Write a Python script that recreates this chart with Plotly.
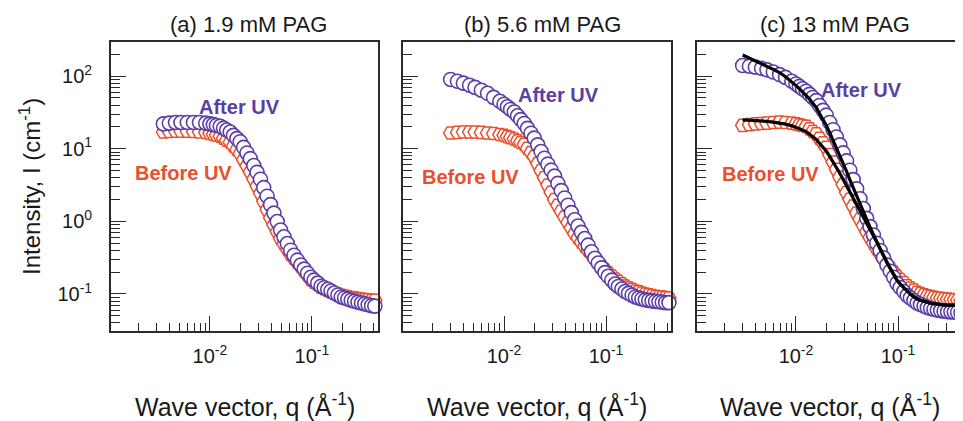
import plotly.graph_objects as go

# ---------------- data ----------------
q = [0.0030, 0.0035, 0.0040, 0.0046, 0.0052, 0.0060, 0.0069, 0.0079, 0.0091,
     0.0100, 0.0108, 0.0116, 0.0126, 0.0136, 0.0146, 0.0158, 0.0170, 0.0184, 0.0198,
     0.0214, 0.0231, 0.0249, 0.0269, 0.0290, 0.0313, 0.0337, 0.0364, 0.0393, 0.0424,
     0.0457, 0.0493, 0.0532, 0.0574, 0.0619, 0.0668, 0.0721, 0.0778, 0.0840, 0.0906,
     0.0977, 0.105, 0.114, 0.123, 0.132, 0.143, 0.154, 0.166, 0.180, 0.194,
     0.209, 0.225, 0.243, 0.262, 0.283, 0.306, 0.330, 0.356, 0.384, 0.414, 0.445]

# (a) 1.9 mM PAG
a_before = [None, 17, 17.3, 17.5, 17.5, 17.5, 17.3, 17, 16.8,
            16.3, 15.8, 15.4, 14.9, 14.0, 13.1, 12.3, 10.9, 9.7, 8.6,
            7.08, 5.83, 4.8, 3.84, 3.07, 2.45, 1.89, 1.45, 1.12, 0.9,
            0.72, 0.58, 0.49, 0.414, 0.35, 0.309, 0.272, 0.24, 0.208, 0.181,
            0.157, 0.145, 0.134, 0.124, 0.118, 0.112, 0.107, 0.103, 0.0995, 0.096,
            0.0936, 0.0913, 0.089, 0.0876, 0.0863, 0.085, 0.084, 0.083, 0.082, 0.082, 0.081]
a_after = [None, 22, 22.5, 23, 23, 23, 23, 23, 22.5,
           22, 21.5, 20.9, 20.4, 19.2, 18.1, 17, 15.3, 13.8, 12.5,
           10.45, 8.74, 7.3, 5.87, 4.73, 3.8, 2.91, 2.22, 1.7, 1.3,
           0.995, 0.76, 0.613, 0.495, 0.4, 0.342, 0.292, 0.25, 0.22, 0.193,
           0.17, 0.155, 0.141, 0.128, 0.122, 0.116, 0.11, 0.103, 0.097, 0.091,
           0.088, 0.085, 0.082, 0.0796, 0.0772, 0.075, 0.073, 0.071, 0.069, 0.068, 0.066]

# (b) 5.6 mM PAG
b_before = [16.5, 16.8, 17, 17, 17, 16.8, 16.5, 16.2, 15.7,
            15.3, 14.7, 14.2, 13.6, 12.9, 12.2, 11.5, 10.1, 8.86, 7.8,
            6.24, 4.99, 4.0, 3.17, 2.52, 2.0, 1.66, 1.38, 1.15, 0.965,
            0.81, 0.68, 0.593, 0.517, 0.45, 0.397, 0.351, 0.31, 0.274, 0.243,
            0.215, 0.195, 0.177, 0.16, 0.149, 0.138, 0.128, 0.122, 0.116, 0.11,
            0.1067, 0.1032, 0.1, 0.0976, 0.0953, 0.093, 0.0916, 0.0903, 0.089, 0.088, 0.088]
b_after = [90, 85, 80, 75, 70, 64, 58, 51, 45,
           41, 37.8, 34.8, 32, 28.4, 25.2, 22.3, 19.1, 16.35, 14,
           11.3, 9.16, 7.4, 6.13, 5.07, 4.2, 3.33, 2.65, 2.1, 1.67,
           1.32, 1.05, 0.861, 0.706, 0.58, 0.47, 0.381, 0.31, 0.267, 0.229,
           0.197, 0.175, 0.155, 0.137, 0.127, 0.117, 0.108, 0.102, 0.096, 0.091,
           0.088, 0.0855, 0.083, 0.0816, 0.0803, 0.079, 0.078, 0.077, 0.076, 0.076, 0.076]

# (c) 13 mM PAG
c_before = [21, 21.5, 22, 22.3, 22.5, 23, 23.3, 23, 22.5,
            22, 21.4, 20.9, 20.3, 18.8, 17.3, 16, 13.9, 12.1, 10.5,
            8.3, 6.57, 5.2, 4.08, 3.2, 2.5, 2.01, 1.62, 1.3, 1.07,
            0.876, 0.72, 0.601, 0.502, 0.42, 0.358, 0.305, 0.26, 0.228, 0.2,
            0.175, 0.158, 0.144, 0.13, 0.121, 0.113, 0.105, 0.101, 0.0975, 0.094,
            0.092, 0.09, 0.088, 0.087, 0.086, 0.085, 0.084, 0.083, 0.082, 0.081, 0.08]
c_after = [140, 137, 133, 128, 122, 114, 105, 96, 85,
           78, 72.2, 66.9, 62, 56.1, 50.8, 46, 39.4, 33.8, 29,
           23.0, 18.3, 14.5, 11.3, 8.76, 6.8, 5.06, 3.76, 2.8, 2.05,
           1.5, 1.1, 0.846, 0.65, 0.5, 0.397, 0.315, 0.25, 0.206, 0.17,
           0.14, 0.123, 0.108, 0.095, 0.0878, 0.0812, 0.075, 0.0715, 0.0682, 0.065,
           0.0633, 0.0616, 0.06, 0.059, 0.058, 0.057, 0.0567, 0.0563, 0.056, 0.055, 0.055]
c_fit_before = [25, 24.8, 24.5, 24.2, 23.8, 23.3, 22.6, 21.8, 20.7,
                19.7, 18.8, 18.0, 17.2, 15.8, 14.6, 13.4, 11.9, 10.5, 9.3,
                7.85, 6.63, 5.6, 4.6, 3.77, 3.1, 2.56, 2.12, 1.75, 1.44,
                1.19, 0.98, 0.794, 0.643, 0.52, 0.418, 0.336, 0.27, 0.224, 0.186,
                0.155, 0.137, 0.122, 0.108, 0.0997, 0.092, 0.085, 0.0819, 0.0789, 0.076,
                0.0746, 0.0733, 0.072, 0.0713, 0.0707, 0.07, 0.07, 0.07, 0.07, 0.07, 0.07]
c_fit_after = [195, 175, 160, 146, 136, 124, 112, 98, 84,
               74, 67.1, 60.8, 55, 48.2, 42.2, 37, 30.6, 25.4, 21,
               16.7, 13.2, 10.5, 8.15, 6.32, 4.9, 3.75, 2.88, 2.2, 1.72,
               1.34, 1.05, 0.831, 0.657, 0.52, 0.418, 0.336, 0.27, 0.224, 0.186,
               0.155, 0.137, 0.122, 0.108, 0.0997, 0.092, 0.085, 0.0819, 0.0789, 0.076,
               0.0746, 0.0733, 0.072, 0.0713, 0.0707, 0.07, 0.07, 0.07, 0.07, 0.07, 0.07]

panel_titles = ["(a) 1.9 mM PAG", "(b) 5.6 mM PAG", "(c) 13 mM PAG"]
x_tickvals = [0.01, 0.1]
x_ticktext = ["10<sup>-2</sup>", "10<sup>-1</sup>"]
y_tickvals = [0.1, 1, 10, 100]
y_ticktext = ["10<sup>-1</sup>", "10<sup>0</sup>", "10<sup>1</sup>", "10<sup>2</sup>"]

# ---------------- styling ----------------
OFF = 8                      # page body margin of the html page
W, H = 963 - OFF, 421 - OFF
PURPLE = "#5b3ea6"
RED = "#e8502e"
FRAME = "#2b2b2b"
FONT = "Liberation Sans, Arial, sans-serif"

boxes = [(111, 378), (403, 671), (697, 963)]   # screen pixels
TOP, BOT = 42, 331
xranges = [[-2.97, -0.352], [-2.99, -0.363], [-2.97, -0.363]]
yrange = [-1.51, 2.47]

def px(x):
    return (x - OFF) / W

def py(y):
    return 1 - (y - OFF) / H

minor_x = [m * 10.0 ** e for e in (-3, -2, -1) for m in range(2, 10)]
minor_y = [m * 10.0 ** e for e in (-2, -1, 0, 1, 2) for m in range(2, 10)]

fig = go.Figure()

data = [(a_before, a_after), (b_before, b_after), (c_before, c_after)]
for i, (bef, aft) in enumerate(data):
    xa = "x" if i == 0 else f"x{i+1}"
    ya = "y" if i == 0 else f"y{i+1}"
    fig.add_trace(go.Scatter(
        x=q, y=bef, mode="markers", xaxis=xa, yaxis=ya, cliponaxis=False,
        marker=dict(symbol="hexagon2", size=14, color="white",
                    line=dict(color=RED, width=1.5)),
        showlegend=False))
    fig.add_trace(go.Scatter(
        x=q, y=aft, mode="markers", xaxis=xa, yaxis=ya, cliponaxis=False,
        marker=dict(symbol="circle", size=14, color="white",
                    line=dict(color=PURPLE, width=1.6)),
        showlegend=False))

for fit in (c_fit_before, c_fit_after):
    fig.add_trace(go.Scatter(
        x=q, y=fit, mode="lines", xaxis="x3", yaxis="y3",
        line=dict(color="black", width=3.2), showlegend=False))

layout = dict(
    width=W, height=H, margin=dict(l=0, r=0, t=0, b=0),
    paper_bgcolor="white", plot_bgcolor="white",
    font=dict(family=FONT, color="#1a1a1a"),
)

for i, (l, r) in enumerate(boxes):
    xk = "xaxis" if i == 0 else f"xaxis{i+1}"
    yk = "yaxis" if i == 0 else f"yaxis{i+1}"
    anchor_x = "y" if i == 0 else f"y{i+1}"
    anchor_y = "x" if i == 0 else f"x{i+1}"
    layout[xk] = dict(
        type="log", domain=[px(l), min(px(r), 1.0)], range=xranges[i], anchor=anchor_x,
        showgrid=False, zeroline=False, showline=True, mirror=True,
        linecolor=FRAME, linewidth=1.8,
        ticks="inside", ticklen=15, tickwidth=1.3, tickcolor=FRAME,
        tickvals=x_tickvals, ticktext=x_ticktext,
        tickfont=dict(size=20, color="#1a1a1a"), ticklabelstandoff=6,
        minor=dict(tickvals=minor_x, ticks="inside", ticklen=8,
                   tickwidth=1.3, tickcolor=FRAME, showgrid=False),
    )
    layout[yk] = dict(
        type="log", domain=[py(BOT), py(TOP)], range=yrange, anchor=anchor_y,
        showgrid=False, zeroline=False, showline=True,
        mirror=(i != 2),
        linecolor=FRAME, linewidth=1.8,
        ticks="inside", ticklen=15, tickwidth=1.3, tickcolor=FRAME,
        tickvals=y_tickvals, ticktext=y_ticktext,
        showticklabels=(i == 0),
        tickfont=dict(size=20, color="#1a1a1a"), ticklabelstandoff=13,
        minor=dict(tickvals=minor_y, ticks="inside", ticklen=9,
                   tickwidth=1.3, tickcolor=FRAME, showgrid=False),
    )

fig.update_layout(**layout)

ann = []
title_x = [248, 542, 835]
for i, t in enumerate(panel_titles):
    ann.append(dict(x=px(title_x[i]), y=py(25), xref="paper", yref="paper",
                    text=t, showarrow=False, xanchor="center", yanchor="middle",
                    font=dict(size=22, color="#1a1a1a")))
    cx = (boxes[i][0] + boxes[i][1]) / 2
    ann.append(dict(x=px(cx), y=py(405), xref="paper", yref="paper",
                    text="Wave vector, q (Å<sup>-1</sup>)", showarrow=False,
                    xanchor="center", yanchor="middle",
                    font=dict(size=25, color="#1a1a1a")))

ann.append(dict(x=px(30), y=py(187), xref="paper", yref="paper",
                text="Intensity, I (cm<sup>-1</sup>)", textangle=-90,
                showarrow=False, xanchor="center", yanchor="middle",
                font=dict(size=24, color="#1a1a1a")))

after_pos = [(239, 107), (558, 95), (861, 90)]
before_pos = [(183, 173), (470, 177), (770, 174)]
for (x, y) in after_pos:
    ann.append(dict(x=px(x), y=py(y), xref="paper", yref="paper",
                    text="<b>After UV</b>", showarrow=False,
                    xanchor="center", yanchor="middle",
                    font=dict(size=20, color=PURPLE)))
for (x, y) in before_pos:
    ann.append(dict(x=px(x), y=py(y), xref="paper", yref="paper",
                    text="<b>Before UV</b>", showarrow=False,
                    xanchor="center", yanchor="middle",
                    font=dict(size=20, color=RED)))

fig.update_layout(annotations=ann)
fig.write_html("out.html")
